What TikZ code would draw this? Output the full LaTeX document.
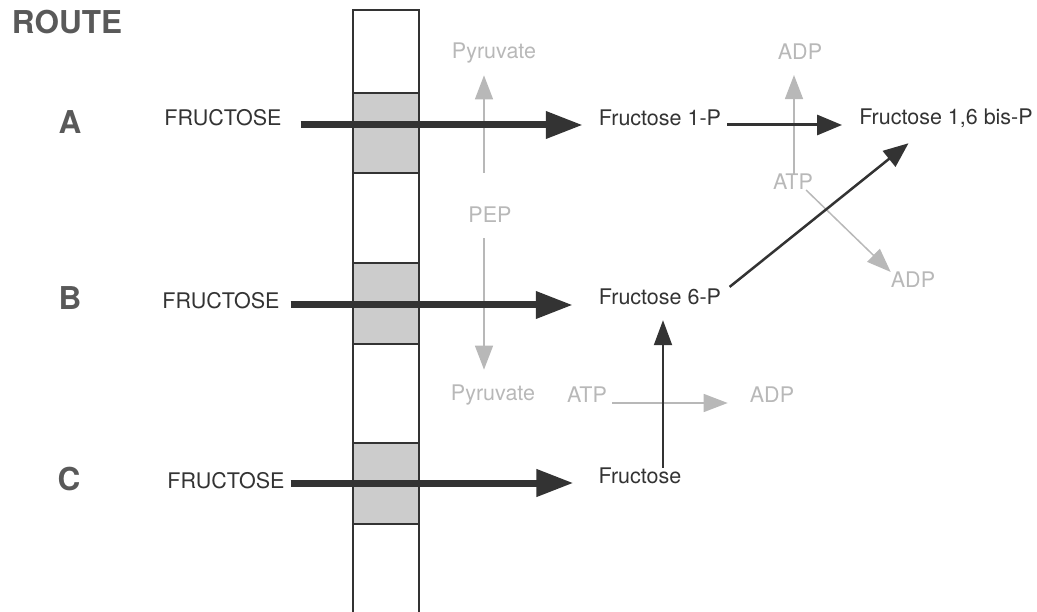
\documentclass[tikz,border=0pt]{standalone}
\usepackage{fontspec}
\setmainfont{TeX Gyre Heros}
\usetikzlibrary{arrows.meta}
\definecolor{ink}{gray}{0.2}
\definecolor{pale}{gray}{0.72}
\definecolor{routegray}{gray}{0.35}

\begin{document}
\begin{tikzpicture}[x=1pt,y=-1pt,
    lbl/.style={inner sep=0pt,font=\fontsize{21.5}{24}\selectfont,text=ink},
    side/.style={lbl,text=pale},
    routelbl/.style={inner sep=0pt,font=\fontsize{31.5}{34}\selectfont\bfseries,text=routegray},
    bigarrow/.style={line width=7pt,draw=ink,-{Triangle[length=37pt,width=26pt]}},
    midarrow/.style={line width=3pt,draw=ink,-{Triangle[length=25pt,width=20pt]}},
    thinarrow/.style={line width=2pt,draw=ink,-{Triangle[length=25pt,width=18pt]}},
    palearrow/.style={line width=1.5pt,draw=pale,-{Triangle[length=24pt,width=18pt]}}]
		%%%%% START %%%%%
		
		\useasboundingbox (0,0) rectangle (1037,612);
		
		\draw[ink, line width=1.5pt] (353,612) -- (353,10) -- (419,10) -- (419,612);
		\foreach \top/\bot in {93/173, 263/344, 443/524}
		  \draw[ink, line width=1.5pt, fill=black!20] (353,\top) rectangle (419,\bot);
		
		\node[routelbl] (route) at (67,22) {ROUTE};
		\node[routelbl] (ra) at (70,122) {A};
		\node[routelbl] (rb) at (70,298) {B};
		\node[routelbl] (rc) at (69,479) {C};
		
		\node[lbl] (fa) at (223,118) {FRUCTOSE};
		\node[lbl] (fb) at (221,301) {FRUCTOSE};
		\node[lbl] (fc) at (226,481) {FRUCTOSE};
		
		\node[lbl] (f1p) at (660,118) {Fructose 1-P};
		\node[lbl] (f6p) at (660,297) {Fructose 6-P};
		\node[lbl] (fru) at (640,476) {Fructose};
		\node[lbl] (bisp) at (946,118) {Fructose 1,6 bis-P};
		
		\node[side] (pyr1) at (494,53) {Pyruvate};
		\node[side] (pep) at (490,215) {PEP};
		\node[side] (pyr2) at (493,395) {Pyruvate};
		\node[side] (atp2) at (587,395) {ATP};
		\node[side] (adp2) at (772,395) {ADP};
		\node[side] (adp1) at (800,52) {ADP};
		\node[side] (atp1) at (793,182) {ATP};
		\node[side] (adp3) at (913,280) {ADP};
		
		% side reactions
		\coordinate (pk) at (484,173);
		\draw[palearrow, shorten >=12pt] (pk) -- (pk |- pyr1.south);
		\draw[palearrow, shorten <=15pt, shorten >=15pt] ([xshift=-6pt]pep.south) -- ([xshift=-6pt]pep.south |- pyr2.north);
		\draw[palearrow, shorten <=5pt, shorten >=22pt] ([yshift=-8pt]atp2.east) -- ([yshift=-8pt]atp2.east -| adp2.west);
		\draw[palearrow, shorten >=15pt] ([xshift=1pt]atp1.north) -- ([xshift=1pt]atp1.north |- adp1.south);
		\draw[palearrow] ([xshift=-7pt]atp1.south east) -- (adp3.north west);
		
		% uptake routes
		\draw[bigarrow, shorten <=19pt, shorten >=16pt] ([yshift=-7pt]fa.east) -- ([yshift=-7pt]fa.east -| f1p.west);
		\draw[bigarrow, shorten <=11pt, shorten >=26pt] ([yshift=-4pt]fb.east) -- ([yshift=-4pt]fb.east -| f6p.west);
		\draw[bigarrow, shorten <=6pt, shorten >=25pt] ([yshift=-2pt]fc.east) -- ([yshift=-2pt]fc.east -| fru.west);
		
		\draw[midarrow, shorten <=6pt, shorten >=17pt] ([yshift=-7pt]f1p.east) -- ([yshift=-7pt]f1p.east -| bisp.west);
		\draw[thinarrow, shorten >=15pt] ([xshift=23pt]fru.north) -- ([xshift=23pt]fru.north |- f6p.south);
		\draw[midarrow, line width=2.5pt, shorten <=3pt, shorten >=25pt] ([xshift=6pt]f6p.north east) -- ([xshift=-18pt]bisp.south);
		
		%%%%% END %%%%%
	\end{tikzpicture}
\end{document}
